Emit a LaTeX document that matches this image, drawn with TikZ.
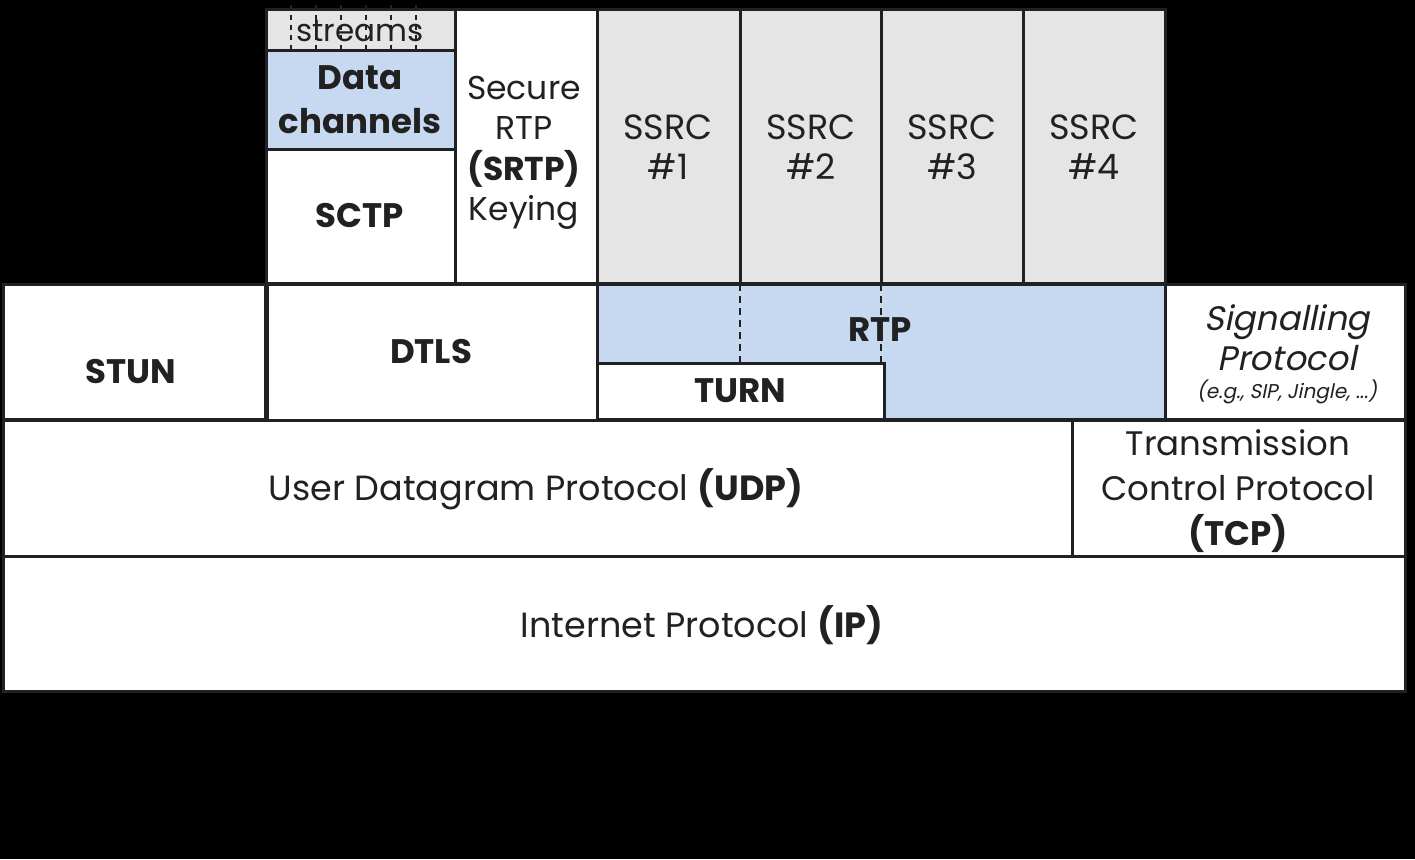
\documentclass[tikz,border=0pt]{standalone}
\usepackage{fontspec}
\setmainfont{Poppins}
\newfontfamily\slfont{Poppins}[FakeSlant=0.2]
\begin{document}
\begin{tikzpicture}[x=1pt,y=-1pt,
  box/.style={draw=black!87,line width=3pt,fill=white},
  graybox/.style={box,fill=black!10},
  bluebox/.style={box,fill=blue1},
  txt/.style={font=\fontsize{35}{40}\selectfont,text=black!87,inner sep=0pt,align=center},
  btxt/.style={txt,font=\fontsize{34}{40}\selectfont\bfseries},
  stxt/.style={txt,font=\fontsize{34}{40}\selectfont\slfont},
  dline/.style={draw=black!87,line width=1.5pt,dash pattern=on 7pt off 5pt}]
\definecolor{blue1}{HTML}{C6D9F1}
\useasboundingbox (0,0) rectangle (1415,859);
\fill[black] (0,0) rectangle (1415,859);
% top row
\draw[graybox] (266,10) rectangle (455,51);
\foreach \x in {291,316,341,366,391,416} \draw[dline,line width=1.2pt,dash pattern=on 5pt off 5pt] (\x,5) -- (\x,51);
\node[txt,font=\fontsize{31}{32}\selectfont] (streams) at (360,31) {streams};
\draw[bluebox] (266,51) rectangle (455,149);
\node[btxt,font=\fontsize{34}{44}\selectfont\bfseries] (dc) at (360,100) {Data\\channels};
\draw[box] (266,149) rectangle (455,283);
\node[btxt] (sctp) at (360,216) {SCTP};
\draw[box] (455,10) rectangle (597,283);
\node[txt,font=\fontsize{33}{40.5}\selectfont] (srtp) at (524,153) {Secure\\RTP\\\textbf{(SRTP)}\\Keying};
\draw[graybox] (597,10) rectangle (740,283);
\draw[graybox] (740,10) rectangle (881,283);
\draw[graybox] (881,10) rectangle (1023,283);
\draw[graybox] (1023,10) rectangle (1165,283);
\node[txt] (s1) at (668,147) {SSRC\\\#1};
\node[txt] (s2) at (811,147) {SSRC\\\#2};
\node[txt] (s3) at (952,147) {SSRC\\\#3};
\node[txt] (s4) at (1094,147) {SSRC\\\#4};
% middle row
\draw[box] (3,284) rectangle (265,419);
\node[btxt] (stun) at (131,372) {STUN};
\draw[box] (267,284) rectangle (597,420);
\node[btxt] (dtls) at (431,352) {DTLS};
\draw[bluebox] (597,284) rectangle (1165,419);
\draw[dline] (740,284) -- (740,363);
\draw[dline] (881,284) -- (881,363);
\node[btxt] (rtp) at (880,330) {RTP};
\draw[box] (597,363) rectangle (884,419);
\node[btxt] (turn) at (740,391) {TURN};
\draw[box] (1165,284) rectangle (1405,419);
\node[stxt] (sig) at (1287,338) {Signalling\\Protocol};
\node[txt,font=\fontsize{20}{22}\selectfont\slfont] (eg) at (1287,392) {(e.g., SIP, Jingle, ...)};
% UDP / TCP
\draw[box] (3,420) rectangle (1072,556);
\node[txt] (udp) at (536,489) {User Datagram Protocol \textbf{(UDP)}};
\draw[box] (1072,420) rectangle (1405,556);
\node[txt,font=\fontsize{34}{45}\selectfont] (tcp) at (1238,491) {Transmission\\Control Protocol\\\textbf{(TCP)}};
% IP
\draw[box] (3,556) rectangle (1405,691);
\node[txt] (ip) at (702,625) {Internet Protocol \textbf{(IP)}};
\end{tikzpicture}
\end{document}
